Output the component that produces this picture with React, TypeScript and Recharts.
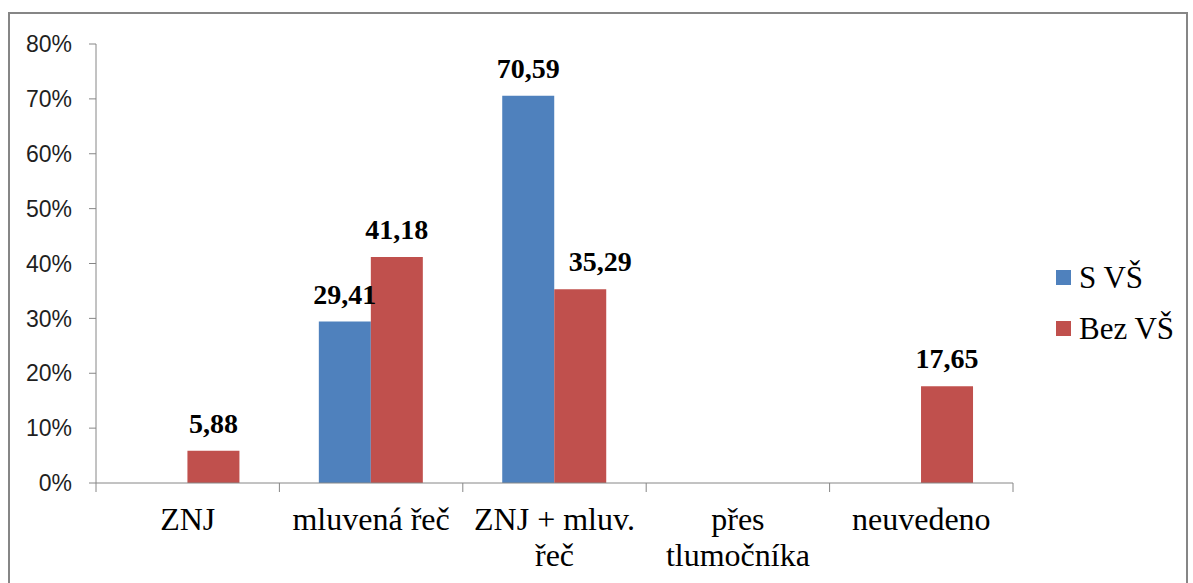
import { BarChart, Bar, XAxis, YAxis, LabelList } from "recharts";

const categories = ["ZNJ", "mluvená řeč", "ZNJ + mluv. řeč", "přes tlumočníka", "neuvedeno"];
const sVs = [0, 29.41, 70.59, 0, 0];
const bezVs = [5.88, 41.18, 35.29, 0, 17.65];
const yTicks = [0, 10, 20, 30, 40, 50, 60, 70, 80];
const seriesNames = ["S VŠ", "Bez VŠ"];

const BLUE = "#4F81BD";
const RED = "#C0504D";
const AXIS = "#868686";
const SERIF = "'Liberation Serif', 'Times New Roman', serif";
const SANS = "'Liberation Sans', Arial, sans-serif";

const data = categories.map((name, i) => ({ name, sVs: sVs[i], bezVs: bezVs[i] }));

const fmt = (v: number) => v.toFixed(2).replace(".", ",");

// greedy word wrap, measured with a canvas so it follows the real font
let ctx: CanvasRenderingContext2D | null = null;
function wrap(text: string, maxWidth: number, font: string) {
  if (!ctx) ctx = document.createElement("canvas").getContext("2d");
  if (!ctx) return [text];
  ctx.font = font;
  const lines: string[] = [];
  let cur = "";
  for (const w of text.split(" ")) {
    const next = cur ? cur + " " + w : w;
    if (cur && ctx.measureText(next).width > maxWidth) {
      lines.push(cur);
      cur = w;
    } else cur = next;
  }
  if (cur) lines.push(cur);
  return lines;
}

// Excel nudges a label sideways when it would run into the taller neighbouring bar
const makeLabel = (other: number[], shift: number) => (props: any) => {
  const { x, y, width, value, index } = props;
  if (!value) return null;
  const dx = other[index] > value ? shift : 0;
  return (
    <text
      x={x + width / 2 + dx}
      y={y - 18}
      textAnchor="middle"
      style={{ fontFamily: SERIF, fontSize: 28, fontWeight: 700 }}
      fill="#000"
    >
      {fmt(value)}
    </text>
  );
};

const CategoryTick = (props: any) => {
  const { x, y, payload, index, visibleTicksCount } = props;
  const half = payload.offset ?? 0;
  const lines = wrap(payload.value, 178, `32px ${SERIF}`);
  return (
    <g>
      <line x1={x - half} x2={x - half} y1={y} y2={y + 9} stroke={AXIS} />
      {index === visibleTicksCount - 1 && (
        <line x1={x + half} x2={x + half} y1={y} y2={y + 9} stroke={AXIS} />
      )}
      <text textAnchor="middle" style={{ fontFamily: SERIF, fontSize: 32 }} fill="#000">
        {lines.map((l, i) => (
          <tspan key={i} x={x} y={y + 47 + i * 36}>
            {l}
          </tspan>
        ))}
      </text>
    </g>
  );
};

export default function App() {
  const colors = [BLUE, RED];
  return (
    <div
      style={{
        position: "absolute",
        left: 0,
        top: 0,
        width: 1193,
        height: 583,
        overflow: "hidden",
        background: "#fff",
      }}
    >
      <div
        style={{
          position: "absolute",
          left: 8,
          top: 12,
          width: 1180,
          height: 640,
          border: `2px solid ${AXIS}`,
          boxSizing: "border-box",
        }}
      />
      <div style={{ position: "absolute", left: 0, top: 0 }}>
        <BarChart
          width={1193}
          height={583}
          data={data}
          margin={{ top: 44, right: 180, bottom: 0, left: 0 }}
          barCategoryGap="21.5%"
          barGap={0}
        >
          <XAxis
            dataKey="name"
            height={100}
            axisLine={{ stroke: AXIS }}
            tickLine={false}
            tickSize={0}
            tickMargin={0}
            interval={0}
            tick={<CategoryTick />}
          />
          <YAxis
            width={96}
            domain={[0, 80]}
            ticks={yTicks}
            tickFormatter={(v: number) => `${v}%`}
            tickSize={7}
            tickMargin={17}
            axisLine={{ stroke: AXIS }}
            tickLine={{ stroke: AXIS }}
            tick={{ fontFamily: SANS, fontSize: 23, fill: "#1f1f1f" }}
          />
          <Bar dataKey="sVs" name={seriesNames[0]} fill={BLUE} isAnimationActive={false}>
            <LabelList dataKey="sVs" content={makeLabel(bezVs, -20)} />
          </Bar>
          <Bar dataKey="bezVs" name={seriesNames[1]} fill={RED} isAnimationActive={false}>
            <LabelList dataKey="bezVs" content={makeLabel(sVs, 20)} />
          </Bar>
        </BarChart>
      </div>
      <div style={{ position: "absolute", left: 1056, top: 252 }}>
        {seriesNames.map((n, i) => (
          <div key={n} style={{ display: "flex", alignItems: "center", height: 51 }}>
            <span style={{ width: 15, height: 15, background: colors[i], display: "inline-block", marginRight: 8 }} />
            <span style={{ fontFamily: SERIF, fontSize: 31, color: "#000", lineHeight: "36px" }}>{n}</span>
          </div>
        ))}
      </div>
    </div>
  );
}
